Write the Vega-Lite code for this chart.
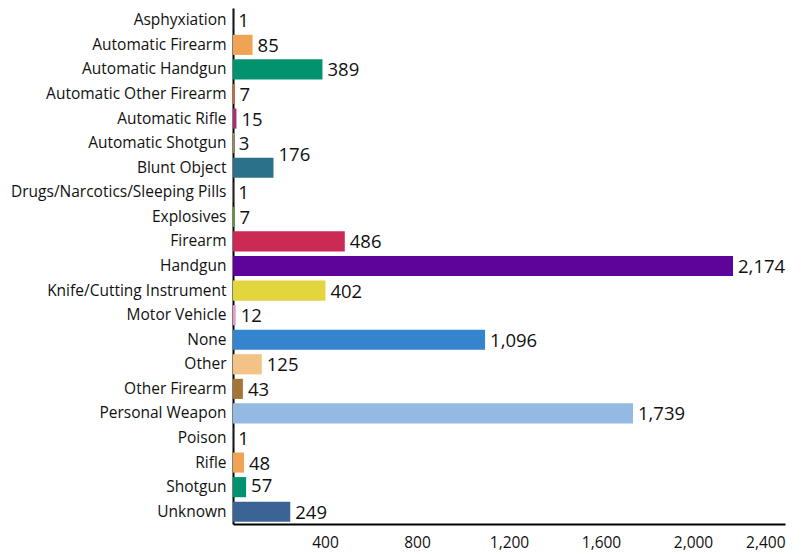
{
  "$schema": "https://vega.github.io/schema/vega-lite/v6.json",
  "autosize": "none",
  "width": 552,
  "height": 516,
  "padding": {"left": 233, "top": 8, "right": 24, "bottom": 30},
  "background": "white",
  "config": {"view": {"stroke": null}, "font": "Open Sans"},
  "data": {"values": [
    {"weapon": "Asphyxiation", "count": 1, "color": "#4a7fc1"},
    {"weapon": "Automatic Firearm", "count": 85, "color": "#f0a354"},
    {"weapon": "Automatic Handgun", "count": 389, "color": "#00936e"},
    {"weapon": "Automatic Other Firearm", "count": 7, "color": "#e0602a"},
    {"weapon": "Automatic Rifle", "count": 15, "color": "#a8316b"},
    {"weapon": "Automatic Shotgun", "count": 3, "color": "#f2d16b"},
    {"weapon": "Blunt Object", "count": 176, "color": "#2b7189"},
    {"weapon": "Drugs/Narcotics/Sleeping Pills", "count": 1, "color": "#e07f7f"},
    {"weapon": "Explosives", "count": 7, "color": "#5a9a2a"},
    {"weapon": "Firearm", "count": 486, "color": "#cb2a55"},
    {"weapon": "Handgun", "count": 2174, "color": "#5e049a"},
    {"weapon": "Knife/Cutting Instrument", "count": 402, "color": "#e3d53e"},
    {"weapon": "Motor Vehicle", "count": 12, "color": "#e0a0c8"},
    {"weapon": "None", "count": 1096, "color": "#3584ce"},
    {"weapon": "Other", "count": 125, "color": "#f3c286"},
    {"weapon": "Other Firearm", "count": 43, "color": "#a57534"},
    {"weapon": "Personal Weapon", "count": 1739, "color": "#94b9e3"},
    {"weapon": "Poison", "count": 1, "color": "#4a7fc1"},
    {"weapon": "Rifle", "count": 48, "color": "#f0a354"},
    {"weapon": "Shotgun", "count": 57, "color": "#00936e"},
    {"weapon": "Unknown", "count": 249, "color": "#3b6495"}
  ]},
  "encoding": {
    "y": {"field": "weapon", "type": "nominal", "sort": null,
      "scale": {"paddingInner": 0.18, "paddingOuter": 0.09},
      "axis": {"title": null, "ticks": false, "domainColor": "#000", "domainWidth": 2,
        "labelFontSize": 15.5, "labelColor": "#111", "labelPadding": 7, "labelLimit": 400, "labelFont": "Open Sans"}},
    "x": {"field": "count", "type": "quantitative",
      "scale": {"domain": [0, 2400], "nice": false},
      "axis": {"title": null, "values": [400, 800, 1200, 1600, 2000, 2400], "ticks": false,
        "grid": false, "domainColor": "#000", "domainWidth": 2, "format": ",.0f",
        "labelFontSize": 15.5, "labelColor": "#111", "labelPadding": 11, "labelFont": "Open Sans"}}
  },
  "layer": [
    {"mark": {"type": "bar"}, "encoding": {"color": {"field": "color", "type": "nominal", "scale": null}}},
    {"transform": [{"filter": "datum.weapon !== 'Blunt Object' && datum.weapon !== 'Shotgun'"}],
     "mark": {"type": "text", "align": "left", "baseline": "middle", "dx": 5, "dy": 1, "fontSize": 18.5, "color": "#111"},
     "encoding": {"text": {"field": "count", "type": "quantitative", "format": ",.0f"}}},
    {"transform": [{"filter": "datum.weapon === 'Blunt Object'"}],
     "mark": {"type": "text", "align": "left", "baseline": "middle", "dx": 5, "dy": -13, "fontSize": 18.5, "color": "#111"},
     "encoding": {"text": {"field": "count", "type": "quantitative", "format": ",.0f"}}},
    {"transform": [{"filter": "datum.weapon === 'Shotgun'"}],
     "mark": {"type": "text", "align": "left", "baseline": "middle", "dx": 5, "dy": -1, "fontSize": 18.5, "color": "#111"},
     "encoding": {"text": {"field": "count", "type": "quantitative", "format": ",.0f"}}}
  ]
}
